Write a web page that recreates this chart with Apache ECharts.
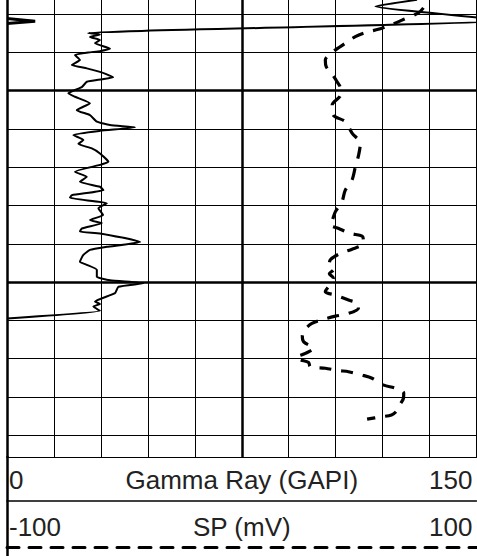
<!DOCTYPE html>
<html>
<head>
<meta charset="utf-8">
<script src="https://cdn.jsdelivr.net/npm/echarts@6/dist/echarts.min.js"></script>
<style>html,body{margin:0;padding:0;background:#fff}#c{width:477px;height:556px}</style>
</head>
<body>
<div id="c"></div>
<script>
// Depth (ft) and Gamma Ray (GAPI) samples
const grDepth = [976.3,978.0,981.7,984.96,985.35,986.0,986.8,987.6,989.1,989.7,990.05,990.7,992.0,993.3,994.2,995.1,996.5,997.05,997.7,999.1,1000.7,1001.6,1003.3,1005.1,1006.4,1008.1,1009.0,1009.6,1010.5,1011.6,1012.9,1013.9,1015.1,1016.4,1018.6,1019.4,1021.2,1022.5,1023.8,1025.1,1026.0,1027.3,1028.0,1029.4,1030.7,1032.5,1033.8,1034.6,1036.0,1036.8,1037.3,1039.5,1040.8,1041.6,1042.9,1044.7,1045.5,1046.8,1048.6,1049.5,1050.3,1051.2,1052.9,1055.1,1055.7,1056.4,1057.5,1059.5];
const grValues = [131.0,117.7,159,25.9,29.7,26.5,29.7,28.1,32.9,29.7,25.9,21.7,23.3,20.7,25.5,29.7,33.9,30.3,25.5,23.9,19.6,21.7,26.5,22.3,26.5,28.7,32.9,40.9,29.7,21.2,24.4,22.8,27.1,29.7,32.4,29.7,21.7,25.5,23.3,29.7,30.8,20.7,20.1,31.9,29.2,30.7,26.5,30.3,23.9,23.3,29.7,42.5,31.9,26.5,24.4,23.3,25.5,28.7,28.7,32.9,43.6,35.6,34.5,28.1,29.7,27.6,29.7,0];
// Wrapped (backup) Gamma Ray trace beyond 150
const grWrapDepth = [981.2,981.9,982.5];
const grWrapValues = [0,9,0];
// Depth (ft) and SP (mV) samples
const spDepth = [978.4,979.7,981.6,982.9,984.0,984.7,985.9,987.65,989.8,992.0,993.8,995.7,997.7,999.3,1001.15,1003.8,1006.4,1008.1,1011.1,1013.8,1016.8,1019.9,1023.3,1026.0,1029.0,1031.6,1033.8,1035.1,1036.0,1037.3,1038.0,1039.0,1040.3,1041.4,1042.5,1044.2,1045.8,1046.8,1047.8,1048.9,1050.2,1052.5,1053.4,1054.7,1055.7,1056.8,1058.3,1058.9,1059.7,1060.8,1062.5,1064.1,1065.6,1067.3,1068.6,1069.7,1070.3,1071.0,1072.1,1072.5,1073.1,1073.4,1074.3,1075.1,1076.9,1077.7,1079.0,1080.3,1081.8,1083.7,1084.7,1085.2,1085.8];
const spValues = [77.4,75.3,68.3,63.3,58.2,53.5,48.4,44.1,39.0,35.6,36.0,38.5,40.6,42.0,42.0,38.5,39.0,44.1,47.0,50.5,49.8,48.4,47.0,44.1,42.7,39.9,38.6,37.7,41.3,46.3,51.3,51.8,51.3,47.0,42.0,37.7,37.3,39.0,37.3,39.0,38.2,35.6,39.9,45.5,49.7,49.7,44.9,39.9,34.9,29.9,26.7,25.8,26.4,30.6,27.1,23.2,24.9,28.5,29.2,35.6,41.3,45.5,51.3,55.5,60.5,65.5,69.0,68.9,67.6,65.9,63.8,59.1,53.4];
// Scales and labels
const grScale = [0, 150];
const spScale = [-100, 100];
const grTitle = 'Gamma Ray (GAPI)';
const spTitle = 'SP (mV)';
const depthRange = [970, 1095.67];
const majorDepths = [1000, 1050];

const zip = (xs, ys) => xs.map((x, i) => [x, ys[i]]);
const FONT = "'Liberation Sans', Arial, sans-serif";
const labelStyle = {fontFamily: FONT, fontSize: 26, color: '#222'};

const chart = echarts.init(document.getElementById('c'), null, {renderer: 'svg'});
chart.setOption({
  animation: false,
  backgroundColor: '#fff',
  grid: [
    {left: 7, right: 0.5, top: -24.3, bottom: 99, containLabel: false, outerBoundsMode: 'none'},
    {left: 7, right: 0.5, top: 457, bottom: 0, containLabel: false, outerBoundsMode: 'none'}
  ],
  xAxis: [
    {
      type: 'value', gridIndex: 0, position: 'bottom', min: grScale[0], max: grScale[1], interval: 15,
      axisLine: {show: true, lineStyle: {color: '#000', width: 1}},
      axisTick: {show: false},
      splitLine: {show: true, lineStyle: {color: '#000', width: 1}},
      axisLabel: Object.assign({customValues: grScale, alignMinLabel: 'left', alignMaxLabel: 'right',
        margin: 23, verticalAlign: 'middle', padding: [0, 4, 0, 2]}, labelStyle),
      name: grTitle, nameLocation: 'middle', nameGap: 23, nameMoveOverlap: false,
      nameTextStyle: Object.assign({verticalAlign: 'middle'}, labelStyle)
    },
    {
      type: 'value', gridIndex: 0, position: 'bottom', offset: 44, min: spScale[0], max: spScale[1],
      axisLine: {show: true, lineStyle: {color: '#000', width: 1.5}},
      axisTick: {show: false},
      splitLine: {show: false},
      axisLabel: Object.assign({customValues: spScale, alignMinLabel: 'left', alignMaxLabel: 'right',
        margin: 26, verticalAlign: 'middle', padding: [0, 4, 0, 2]}, labelStyle),
      name: spTitle, nameLocation: 'middle', nameGap: 26, nameMoveOverlap: false,
      nameTextStyle: Object.assign({verticalAlign: 'middle'}, labelStyle)
    },
    {
      type: 'value', gridIndex: 0, position: 'bottom', offset: 90, min: spScale[0], max: spScale[1],
      axisLine: {show: true, lineStyle: {color: '#000', width: 3, type: [12, 10]}},
      axisTick: {show: false}, axisLabel: {show: false}, splitLine: {show: false}
    },
    {
      type: 'value', gridIndex: 1, show: false, min: 0, max: 1
    }
  ],
  yAxis: [
    {
      type: 'value', gridIndex: 0, inverse: true, min: depthRange[0], max: depthRange[1], interval: 10,
      axisLine: {show: true, lineStyle: {color: '#000', width: 2.5}},
      axisTick: {show: false}, axisLabel: {show: false},
      splitLine: {show: true, lineStyle: {color: '#000', width: 1}}
    },
    {
      type: 'value', gridIndex: 1, min: 0, max: 1,
      axisLine: {show: true, lineStyle: {color: '#000', width: 2.5}},
      axisTick: {show: false}, axisLabel: {show: false}, splitLine: {show: false}
    }
  ],
  series: [
    {
      name: grTitle, type: 'line', xAxisIndex: 0, yAxisIndex: 0,
      data: zip(grValues, grDepth), symbol: 'none', clip: true, smooth: 0.15,
      lineStyle: {color: '#000', width: 2},
      markLine: {
        silent: true, symbol: 'none', label: {show: false},
        lineStyle: {color: '#000', width: 2.5, type: 'solid'},
        data: [{xAxis: (grScale[0] + grScale[1]) / 2}].concat(majorDepths.map(d => ({yAxis: d})))
      }
    },
    {
      name: grTitle + ' backup', type: 'line', xAxisIndex: 0, yAxisIndex: 0,
      data: zip(grWrapValues, grWrapDepth), symbol: 'none', clip: true,
      lineStyle: {color: '#000', width: 3}
    },
    {
      name: spTitle, type: 'line', xAxisIndex: 1, yAxisIndex: 0,
      data: zip(spValues, spDepth), symbol: 'none', clip: true, smooth: 0.3,
      lineStyle: {color: '#000', width: 3.2, type: [12, 10]}
    }
  ]
});
</script>
</body>
</html>
